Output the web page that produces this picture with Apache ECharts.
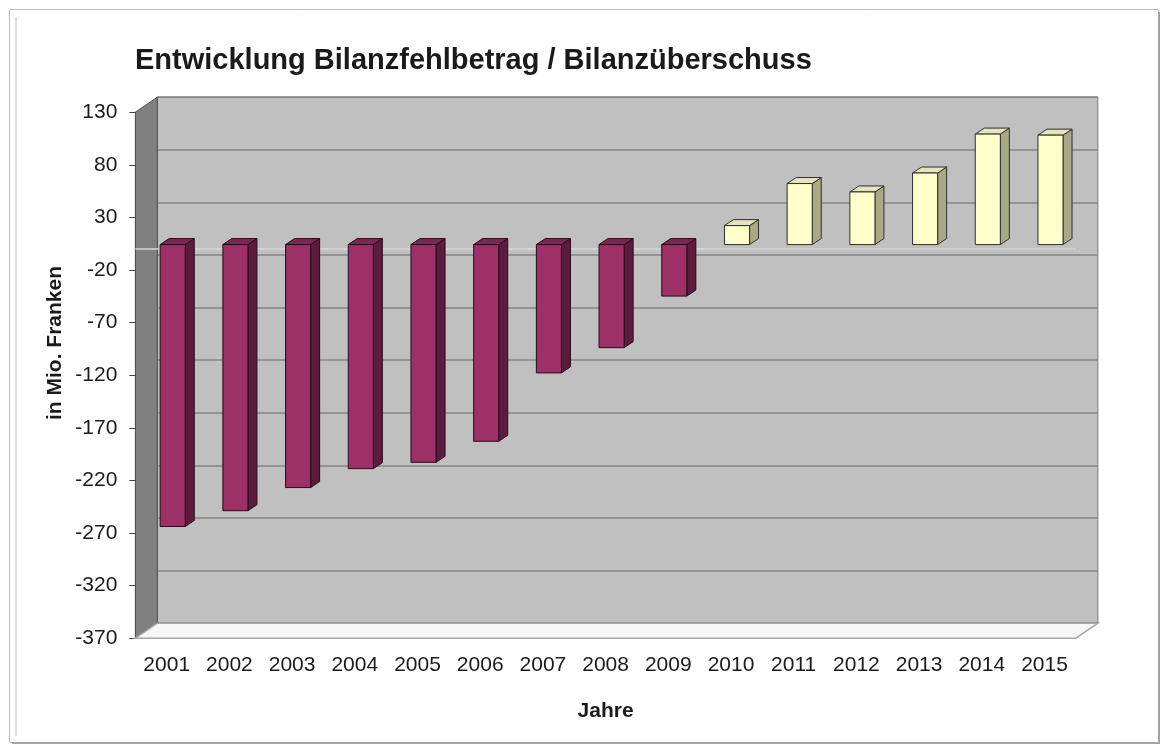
<!DOCTYPE html>
<html>
<head>
<meta charset="utf-8">
<title>Entwicklung Bilanzfehlbetrag / Bilanzüberschuss</title>
<script src="https://cdn.jsdelivr.net/npm/echarts@6/dist/echarts.min.js"></script>
<style>
  html, body { margin: 0; padding: 0; background: #fff; }
  #chart { width: 1163px; height: 746px; }
</style>
</head>
<body>
<div id="chart"></div>
<script>
// Daten (Mio. Franken)
var years = ['2001', '2002', '2003', '2004', '2005', '2006', '2007', '2008',
             '2009', '2010', '2011', '2012', '2013', '2014', '2015'];
var saldo = [-268, -253, -231, -213, -207, -187, -122, -98, -49, 18, 58, 50, 68, 105, 104];
var yMin = -370, yMax = 130, yStep = 50;

var FONT = '"Liberation Sans", Arial, sans-serif';
var TXT = '#1a1a1a';

// Front edge of the 3D box, depth offset of the back wall, and offset of the bar fronts
var front = { left: 135.35, top: 112.2, width: 940.5, height: 526 };
var depth = [22, -15];
var barShift = [6, -4.4];

var negColors = { front: '#9c3067', top: '#7b2753', side: '#5b1c3d', edge: '#2a0a1a' };
var posColors = { front: '#ffffcc', top: '#e4e4c0', side: '#a9a98a', edge: '#2f2f2f' };

function renderBar(params, api) {
  var idx = api.value(0), val = api.value(1);
  var base = api.coord([idx, 0]);
  var end = api.coord([idx, val]);
  var w = api.size([1, 0])[0] * 0.4;
  var x0 = base[0] - w / 2, x1 = base[0] + w / 2;
  var top = Math.min(base[1], end[1]), bot = Math.max(base[1], end[1]);
  var pal = val < 0 ? negColors : posColors;
  var dx = 9, dy = 6;
  function st(fill) { return { fill: fill, stroke: pal.edge, lineWidth: 1, lineJoin: 'round' }; }
  return {
    type: 'group',
    children: [
      { type: 'polygon', shape: { points: [[x1, top], [x1 + dx, top - dy], [x1 + dx, bot - dy], [x1, bot]] }, style: st(pal.side) },
      { type: 'polygon', shape: { points: [[x0, top], [x1, top], [x1 + dx, top - dy], [x0 + dx, top - dy]] }, style: st(pal.top) },
      { type: 'rect', shape: { x: x0, y: top, width: w, height: bot - top }, style: st(pal.front) }
    ]
  };
}

var fL = front.left, fT = front.top, fR = front.left + front.width, fB = front.top + front.height;

var chart = echarts.init(document.getElementById('chart'), null, { renderer: 'canvas' });
chart.setOption({
  animation: false,
  backgroundColor: '#ffffff',
  title: {
    text: 'Entwicklung Bilanzfehlbetrag / Bilanzüberschuss',
    left: 135, top: 46, padding: 0,
    textStyle: { fontSize: 29, fontWeight: 'bold', color: TXT, fontFamily: FONT }
  },
  grid: [
    // back wall
    { left: fL + depth[0], top: fT + depth[1], width: front.width, height: front.height,
      show: true, backgroundColor: '#c0c0c0', borderColor: '#7a7a7a', borderWidth: 1, outerBoundsMode: 'none' },
    // front edge (axis labels)
    { left: fL, top: fT, width: front.width, height: front.height, outerBoundsMode: 'none' },
    // bars
    { left: fL + barShift[0], top: fT + barShift[1], width: front.width, height: front.height, outerBoundsMode: 'none' }
  ],
  xAxis: [
    { gridIndex: 0, type: 'category', data: years, show: false },
    { gridIndex: 1, type: 'category', data: years,
      axisLine: { show: false }, axisTick: { show: false },
      axisLabel: { fontSize: 21, color: TXT, margin: 17, fontFamily: FONT },
      name: 'Jahre', nameLocation: 'middle', nameGap: 63,
      nameTextStyle: { fontSize: 21, fontWeight: 'bold', color: TXT, fontFamily: FONT } },
    { gridIndex: 2, type: 'category', data: years, show: false }
  ],
  yAxis: [
    { gridIndex: 0, type: 'value', min: yMin, max: yMax, interval: yStep,
      axisLabel: { show: false }, axisLine: { show: false }, axisTick: { show: false },
      splitLine: { show: true, lineStyle: { color: '#858585', width: 1.5 } } },
    { gridIndex: 1, type: 'value', min: yMin, max: yMax, interval: yStep,
      axisLine: { show: true, lineStyle: { color: '#4d4d4d' } },
      axisTick: { show: true, length: 6, lineStyle: { color: '#404040' } },
      axisLabel: { fontSize: 21, color: TXT, margin: 18, fontFamily: FONT },
      splitLine: { show: false } },
    { gridIndex: 2, type: 'value', min: yMin, max: yMax, interval: yStep, show: false, splitLine: { show: false } }
  ],
  graphic: [
    // chart frame
    { type: 'rect', z: 1, shape: { x: 9.5, y: 9.5, width: 1149, height: 733 },
      style: { fill: 'none', stroke: '#bdbdbd', lineWidth: 1 } },
    { type: 'polyline', z: 1, shape: { points: [[1159, 12], [1159, 743], [12, 743]] },
      style: { fill: 'none', stroke: '#a3a3a3', lineWidth: 2 } },
    { type: 'polyline', z: 1, shape: { points: [[16, 17], [16, 736]] },
      style: { fill: 'none', stroke: '#e0e0e0', lineWidth: 2 } },
    // side wall
    { type: 'polygon', z: 1, shape: { points: [[fL, fT], [fL + depth[0], fT + depth[1]], [fL + depth[0], fB + depth[1]], [fL, fB]] },
      style: { fill: '#808080', stroke: '#4d4d4d', lineWidth: 1 } },
    // floor
    { type: 'polygon', z: 1, shape: { points: [[fL, fB], [fR, fB], [fR + depth[0], fB + depth[1]], [fL + depth[0], fB + depth[1]]] },
      style: { fill: '#f7f7f7', stroke: '#a6a6a6', lineWidth: 1.5 } },
    // y axis title
    { type: 'text', z: 3, x: 55, y: 343, rotation: Math.PI / 2,
      style: { text: 'in Mio. Franken', fontSize: 21, fontWeight: 'bold', fontFamily: FONT,
               fill: TXT, align: 'center', verticalAlign: 'middle' } }
  ],
  series: [
    { type: 'line', xAxisIndex: 1, yAxisIndex: 1, data: [], z: 2,
      markLine: { silent: true, symbol: 'none', label: { show: false },
        lineStyle: { color: '#d9d9d9', width: 1.5, type: 'solid' },
        data: [{ yAxis: 0 }] } },
    { type: 'custom', xAxisIndex: 2, yAxisIndex: 2, z: 5,
      renderItem: renderBar,
      data: saldo.map(function (v, i) { return [i, v]; }) }
  ]
});
</script>
</body>
</html>
